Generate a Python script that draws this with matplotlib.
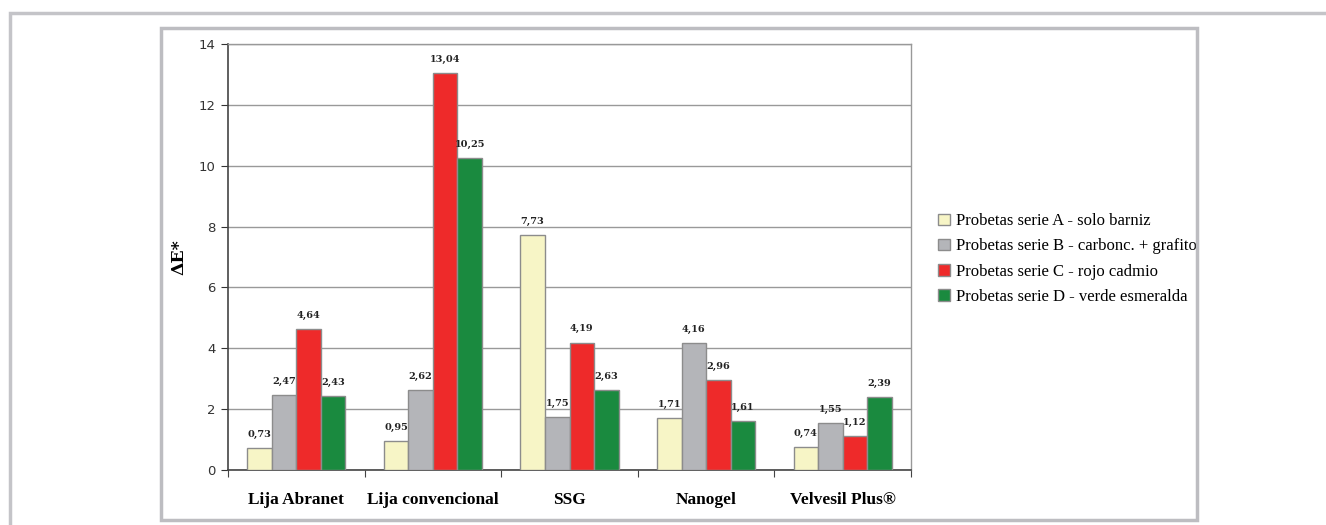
import matplotlib.pyplot as plt
import numpy as np
from matplotlib.patches import Rectangle

categorias = ["Lija Abranet", "Lija convencional", "SSG", "Nanogel", "Velvesil Plus®"]
series = [
    "Probetas serie A - solo barniz",
    "Probetas serie B - carbonc. + grafito",
    "Probetas serie C - rojo cadmio",
    "Probetas serie D - verde esmeralda",
]
serie_a = [0.73, 0.95, 7.73, 1.71, 0.74]
serie_b = [2.47, 2.62, 1.75, 4.16, 1.55]
serie_c = [4.64, 13.04, 4.19, 2.96, 1.12]
serie_d = [2.43, 10.25, 2.63, 1.61, 2.39]
colores = ["#F7F5C6", "#B4B5B9", "#EE2A2A", "#1A8A3F"]

W, H = 1326, 525
fig = plt.figure(figsize=(W / 100, H / 100), dpi=100)

# marcos exteriores
fig.patches.append(Rectangle((10 / W, -0.1), 1.2, 1 - 13 / H + 0.1, transform=fig.transFigure,
                             fill=False, edgecolor="#C4C4C8", linewidth=2.5))
fig.patches.append(Rectangle((161 / W, 5 / H), (1197 - 161) / W, (520 - 28) / H,
                             transform=fig.transFigure, fill=False,
                             edgecolor="#BDBDC1", linewidth=2.5))

ax = fig.add_axes([228 / W, 1 - 470 / H, (911 - 228) / W, (470 - 44) / H])

x = np.arange(len(categorias)) + 0.5
ancho = 0.18
datos = [serie_a, serie_b, serie_c, serie_d]
for i, (vals, col, nombre) in enumerate(zip(datos, colores, series)):
    pos = x + (i - 1.5) * ancho
    ax.bar(pos, vals, ancho, color=col, edgecolor="#8C8C8C", linewidth=1.0, label=nombre, zorder=3)
    for p, v in zip(pos, vals):
        ax.text(p, v + 0.3, ("%.2f" % v).replace(".", ","), ha="center", va="bottom",
                fontsize=7, fontweight="bold", family="DejaVu Serif", color="#222222")

ax.set_xlim(0, len(categorias))
ax.set_ylim(0, 14)
ax.set_yticks(np.arange(0, 15, 2))
ax.tick_params(axis="y", labelsize=9.5, direction="out", length=5, colors="#333333", pad=4)
ax.set_xticks(np.arange(0, len(categorias) + 1))
ax.set_xticklabels([])
ax.set_xticks(x, minor=True)
ax.set_xticklabels(categorias, minor=True, fontsize=12.5, fontweight="bold", family="Liberation Serif")
ax.tick_params(axis="x", which="minor", length=0, pad=16)
ax.tick_params(axis="x", which="major", length=5, direction="out", colors="#444444")
ax.grid(axis="y", color="#999999", linewidth=1.0, zorder=0)

for s in ["left", "bottom"]:
    ax.spines[s].set_color("#444444")
    ax.spines[s].set_linewidth(1.2)
for s in ["right", "top"]:
    ax.spines[s].set_color("#999999")
    ax.spines[s].set_linewidth(1.0)

ax.set_ylabel("ΔE*", fontsize=12.5, fontweight="bold", family="DejaVu Serif", labelpad=8)

ax.legend(loc="center left", bbox_to_anchor=(930 / W, 1 - 259 / H), bbox_transform=fig.transFigure,
          frameon=False, prop={"family": "Liberation Serif", "size": 12},
          handlelength=0.7, handleheight=0.7, handletextpad=0.35, labelspacing=0.55, borderpad=0)

fig.savefig("out.png", dpi=100, facecolor="white")
